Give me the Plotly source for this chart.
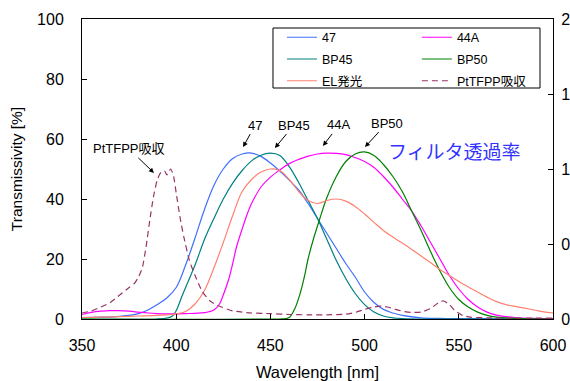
import plotly.graph_objects as go

# ---------------- data ----------------
wl_47 = [350, 360, 370, 380, 385, 390, 395, 400, 405, 410, 415, 420, 425, 430, 435, 440, 445, 450,
         455, 460, 465, 470, 475, 480, 485, 490, 495, 500, 505, 510, 515, 520, 530, 540, 550, 600]
t_47 = [0.5, 0.6, 0.9, 1.8, 3, 4.8, 7, 10.5, 18, 27, 36.5, 44.5, 50, 53.5, 55, 55.3, 54.2, 52,
        49.3, 46.3, 43, 38.5, 33.5, 28.5, 23.5, 18.5, 14, 9, 5.5, 3.2, 2, 1.2, 0.4, 0.2, 0.1, 0]

wl_44a = [350, 355, 360, 365, 370, 375, 380, 385, 390, 395, 400, 405, 410, 415, 420, 423, 425, 428,
          430, 432, 435, 438, 440, 445, 450, 455, 460, 465, 470, 475, 480, 485, 490, 495, 500, 505,
          510, 515, 520, 525, 530, 535, 540, 545, 550, 555, 560, 565, 570, 580, 590, 600]
t_44a = [1.5, 2.2, 2.6, 2.8, 2.8, 2.6, 2.3, 2.0, 1.8, 1.7, 1.7, 1.8, 1.9, 2.1, 3, 5, 8, 13.5,
         18.5, 24, 30, 35.5, 38.5, 44, 47.3, 49.7, 51.8, 53.2, 54.3, 55, 55.3, 55.2, 54.8, 53.8, 52.5, 50.5,
         47.5, 44, 40, 36, 31, 25.5, 20, 14.5, 10, 6.5, 4, 2.3, 1.3, 0.5, 0.2, 0.1]

wl_bp45 = [350, 390, 395, 398, 400, 403, 405, 410, 415, 420, 425, 430, 435, 440, 445, 450, 455, 460,
           465, 470, 475, 480, 485, 490, 495, 500, 505, 510, 515, 520, 530, 600]
t_bp45 = [0, 0, 0.3, 1, 2.8, 7.5, 10.5, 18, 26.5, 33.5, 40, 45.3, 49.5, 52.7, 54.6, 55.3, 54.5, 50.8,
          45.5, 39.5, 33.5, 26.5, 19.5, 13.5, 8.5, 4.8, 2.3, 1, 0.4, 0.15, 0, 0]

wl_bp50 = [350, 455, 458, 460, 463, 466, 468, 470, 473, 476, 480, 485, 490, 495, 500, 505, 510, 515,
           520, 525, 530, 535, 540, 545, 550, 555, 560, 565, 570, 580, 600]
t_bp50 = [0, 0, 0.1, 0.5, 3.5, 9, 14, 20, 27, 33, 40.5, 47.5, 52.5, 55, 55.7, 54.5, 51.5, 47.5,
          42.5, 36, 29.5, 22.5, 16, 10.5, 6.5, 4, 2.3, 1.2, 0.6, 0.2, 0]

# normalized (right axis)
wl_el = [350, 360, 370, 380, 390, 395, 400, 405, 410, 415, 420, 425, 430, 435, 440, 445, 450, 455,
         460, 465, 470, 475, 480, 485, 490, 495, 500, 505, 510, 515, 520, 525, 530, 535, 540, 545,
         550, 555, 560, 565, 570, 575, 580, 585, 590, 595, 600]
i_el = [0.010, 0.012, 0.016, 0.020, 0.024, 0.028, 0.034, 0.05, 0.10, 0.19, 0.34, 0.51, 0.69, 0.85,
        0.93, 0.98, 1.00, 0.99, 0.93, 0.85, 0.79, 0.77, 0.79, 0.80, 0.786, 0.75, 0.70, 0.644, 0.59,
        0.546, 0.506, 0.464, 0.42, 0.376, 0.33, 0.29, 0.25, 0.214, 0.18, 0.146, 0.116, 0.096, 0.084,
        0.072, 0.06, 0.048, 0.04]

wl_pt = [350, 355, 360, 365, 370, 375, 378, 380, 382, 384, 386, 388, 390, 392, 394, 395, 397, 398.5,
         400, 402, 404, 407, 410, 414, 418, 422, 430, 440, 450, 460, 470, 480, 490, 495, 500, 505,
         508, 512, 516, 520, 525, 530, 535, 540, 542, 545, 548, 552, 556, 565, 580, 600]
a_pt = [0.04, 0.054, 0.08, 0.11, 0.16, 0.21, 0.24, 0.28, 0.34, 0.48, 0.66, 0.82, 0.93, 0.98, 0.985,
        0.96, 1.0, 0.96, 0.84, 0.68, 0.55, 0.39, 0.29, 0.18, 0.12, 0.09, 0.054, 0.04, 0.036, 0.03,
        0.028, 0.028, 0.032, 0.044, 0.064, 0.08, 0.086, 0.08, 0.066, 0.052, 0.044, 0.046, 0.07,
        0.116, 0.12, 0.096, 0.056, 0.024, 0.012, 0.008, 0.006, 0.006]

x_ticks = [350, 400, 450, 500, 550, 600]
y_ticks = [0, 20, 40, 60, 80, 100]
y2_ticks = [0, 0.5, 1, 1.5, 2]

# annotations: (label, wavelength, transmissivity, ax, ay)
arrow_labels = [
    ("47", 435.5, 57.3, 12, -22),
    ("BP45", 452.4, 57.0, 19, -23),
    ("44A", 477.9, 57.7, 16, -21),
    ("BP50", 500.2, 57.3, 22, -24),
    ("PtTFPP吸収", 388.2, 48.7, -25, -24),
]

FONT = "Liberation Sans, Arial, Noto Sans CJK JP, sans-serif"

fig = go.Figure()

def add(x, y, name, color, legend, dash="solid", yaxis="y", smooth=1.0):
    fig.add_trace(go.Scatter(
        x=x, y=y, mode="lines", name=name, yaxis=yaxis, legend=legend,
        line=dict(color=color, width=1.2, dash=dash, shape="spline", smoothing=smooth),
        legendgroup=name, hoverinfo="skip"))

add(wl_47, t_47, "47", "#3F6FFF", "legend")
add(wl_bp45, t_bp45, "BP45", "#008080", "legend")
add(wl_el, i_el, "EL発光", "#FF8070", "legend", yaxis="y2")
add(wl_44a, t_44a, "44A", "#FF00FF", "legend2")
add(wl_bp50, t_bp50, "BP50", "#008000", "legend2")
add(wl_pt, a_pt, "PtTFPP吸収", "#993366", "legend2", dash="6px,4px", yaxis="y2", smooth=0.5)

axis_common = dict(showline=True, linecolor="black", linewidth=1, ticks="inside", ticklen=5,
                   tickcolor="black", showgrid=False, zeroline=False, automargin=False,
                   tickfont=dict(family=FONT, size=16, color="black"))

fig.update_layout(
    width=570, height=381,
    margin=dict(l=82, r=17, t=19, b=62, autoexpand=False),
    paper_bgcolor="white", plot_bgcolor="white",
    font=dict(family=FONT, size=13, color="black"),
    showlegend=True,
    xaxis=dict(range=[350, 600], tickvals=x_ticks, mirror=True, ticklabelstandoff=12,
               title=dict(text="Wavelength [nm]", font=dict(family=FONT, size=16.5), standoff=14),
               **axis_common),
    yaxis=dict(range=[0, 100], tickvals=y_ticks, ticklabelstandoff=14,
               title=dict(text="Transmissivity [%]", font=dict(family=FONT, size=15.5), standoff=10),
               **axis_common),
    yaxis2=dict(range=[0, 2], tickvals=y2_ticks, overlaying="y", side="right", ticklabelstandoff=4,
                **axis_common),
    legend=dict(x=0.4246, y=0.988, xanchor="left", yanchor="top", orientation="v",
                bgcolor="rgba(0,0,0,0)", borderwidth=0, tracegroupgap=2.5,
                font=dict(family=FONT, size=12.5, color="black"), itemwidth=30),
    legend2=dict(x=0.711, y=0.988, xanchor="left", yanchor="top", orientation="v",
                 bgcolor="rgba(0,0,0,0)", borderwidth=0, tracegroupgap=2.5,
                 font=dict(family=FONT, size=12.5, color="black"), itemwidth=30),
)

# legend frame
fig.add_shape(type="rect", xref="paper", yref="paper", x0=0.4055, x1=0.9724, y0=0.77, y1=0.97,
              line=dict(color="black", width=1), fillcolor="white", layer="above")

for text, xv, yv, axp, ayp in arrow_labels:
    fig.add_annotation(x=xv, y=yv, xref="x", yref="y", text=text, showarrow=True,
                       ax=axp, ay=ayp, arrowhead=2, arrowsize=1, arrowwidth=1, arrowcolor="black",
                       font=dict(family=FONT, size=13, color="black"))

fig.add_annotation(x=547.5, y=56.3, xref="x", yref="y", text="フィルタ透過率", showarrow=False,
                   font=dict(family="Noto Sans CJK JP, sans-serif", size=19, color="#3333FF"))

fig.write_html("out.html")
